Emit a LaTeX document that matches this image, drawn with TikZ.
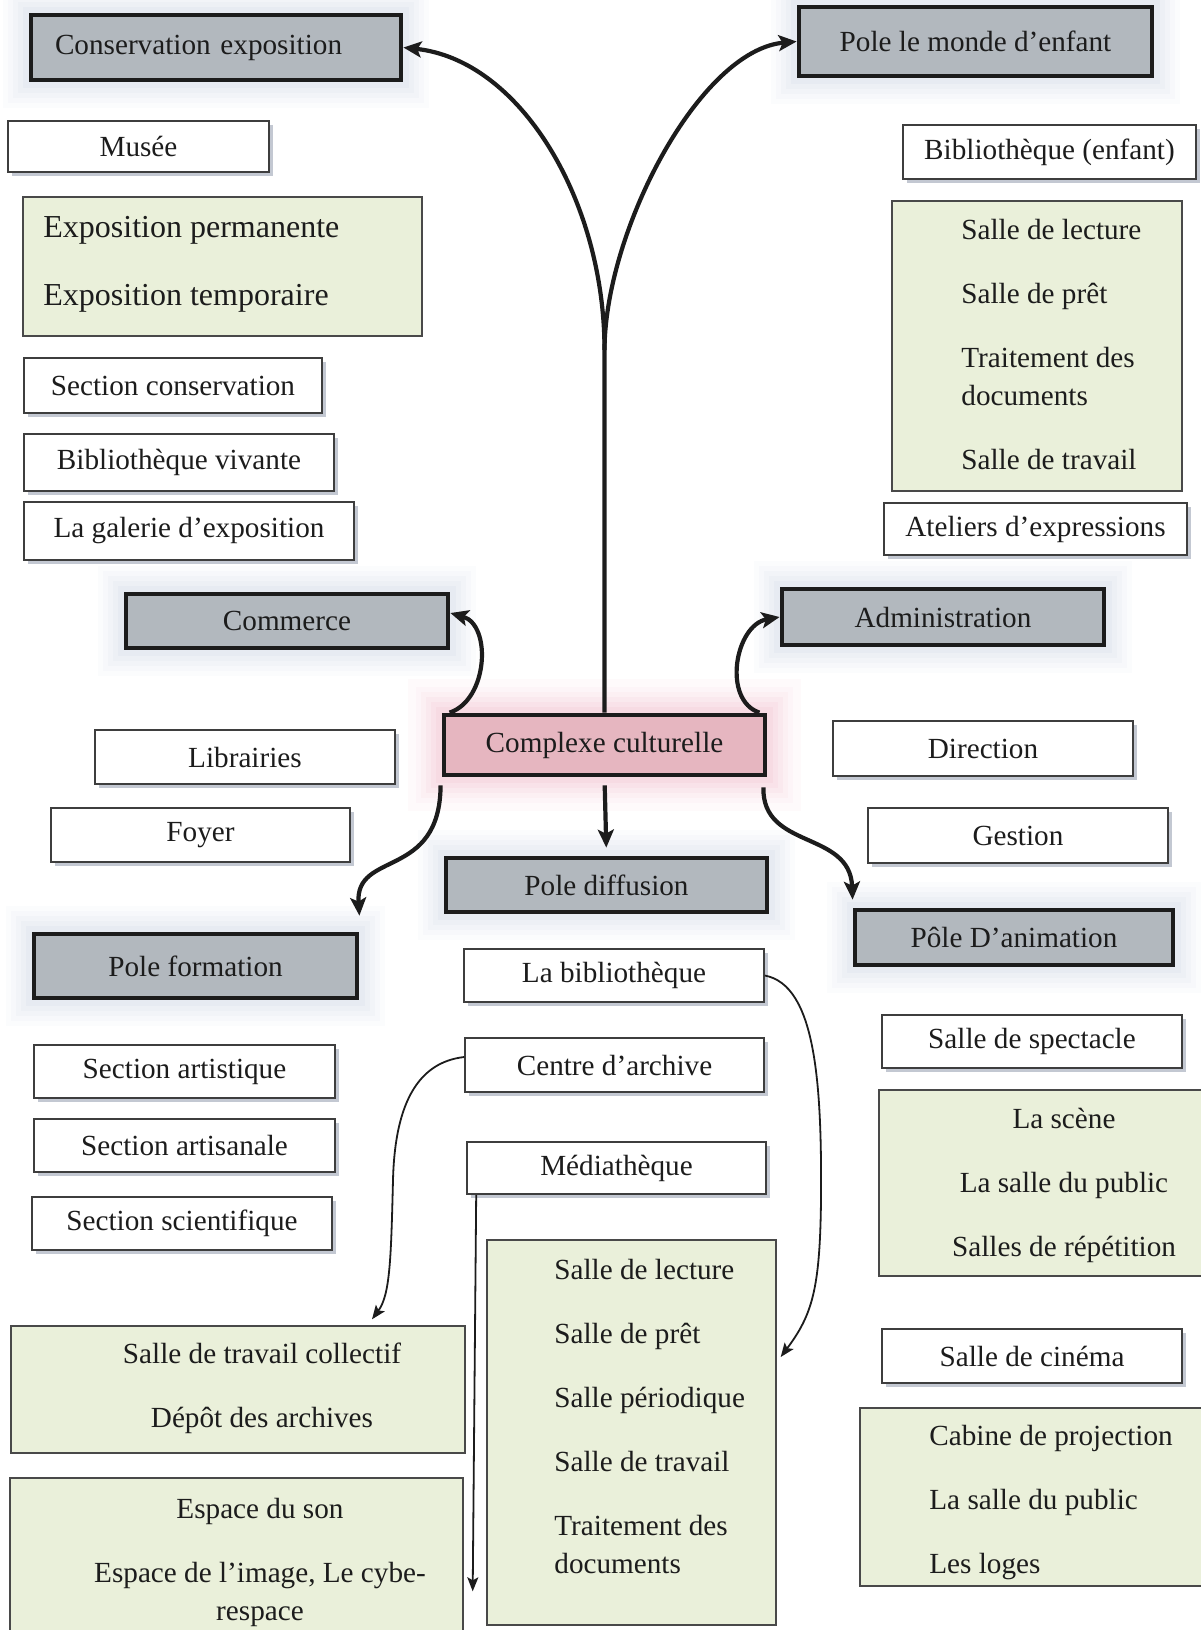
\documentclass[tikz,border=0pt]{standalone}
\usepackage{fontspec}
\setmainfont{Liberation Serif}
\usetikzlibrary{arrows.meta,shadows}

\definecolor{polegris}{RGB}{178,184,190}
\definecolor{halogris}{RGB}{165,178,205}
\definecolor{rosefond}{RGB}{230,182,192}
\definecolor{rosehalo}{RGB}{228,130,160}
\definecolor{vertfond}{RGB}{234,240,218}
\definecolor{ombre}{RGB}{135,145,165}
\definecolor{encre}{RGB}{28,28,28}

\tikzset{
  dim/.style 2 args={minimum width=#1*0.5pt, minimum height=#2*0.5pt},
  halo/.style={preaction={draw=#1, line width=28pt, opacity=.04},
               preaction={draw=#1, line width=23pt, opacity=.05},
               preaction={draw=#1, line width=18pt, opacity=.06},
               preaction={draw=#1, line width=13pt, opacity=.07},
               preaction={draw=#1, line width=8pt, opacity=.08}},
  pole/.style={draw=encre, line width=2.4pt, fill=polegris, halo=halogris,
               inner sep=0pt, text=encre, font=\fontsize{14.6}{18}\selectfont},
  centre/.style={draw=encre, line width=2.4pt, fill=rosefond, halo=rosehalo,
               preaction={draw=rosehalo, line width=36pt, opacity=.04},
               inner sep=0pt, text=encre, font=\fontsize{14.6}{18}\selectfont},
  item/.style={draw=encre!85, line width=0.8pt, fill=white,
               drop shadow={shadow xshift=2pt, shadow yshift=-2pt, fill=ombre, opacity=.5},
               inner sep=0pt, text=encre, font=\fontsize{14.6}{18}\selectfont},
  liste/.style={draw=encre!80, line width=0.7pt, fill=vertfond, inner sep=0pt},
  listetexte/.style={inner sep=0pt, anchor=north west, align=left, text=encre,
                     font=\fontsize{14.6}{19}\selectfont},
  grosse fleche/.style={draw=encre, line width=2.1pt, -{Stealth[length=9pt,width=8pt,inset=2pt]}},
  fine fleche/.style={draw=encre, line width=0.9pt, -{Stealth[length=7pt,width=5.5pt,inset=1.5pt]}},
}

\begin{document}
\begin{tikzpicture}[x=0.5pt,y=-0.5pt]
  \useasboundingbox (0,0) rectangle (1201,1630);
  \clip (0,0) rectangle (1201,1630);

  % les listes (fond vert)
  \node[liste, dim={399}{139}] (expo) at (222.5,266.5) {};
  \node[listetexte, font=\fontsize{16}{20}\selectfont] (expo-t) at (43,216)
    {Exposition permanente\\[14pt]Exposition temporaire};
  \node[liste, dim={290}{290}] (enfant) at (1037,346) {};
  \node[listetexte] (enfant-t) at (961,219)
    {Salle de lecture\\[13pt]Salle de prêt\\[13pt]Traitement des\\documents\\[13pt]Salle de travail};
  \node[liste, dim={370}{186}] (scene) at (1064,1183) {};
  \node[listetexte, anchor=north, align=center] (scene-t) at (1064,1108)
    {La scène\\[13pt]La salle du public\\[13pt]Salles de répétition};
  \node[liste, dim={454}{127}] (collectif) at (238,1389.5) {};
  \node[listetexte, anchor=north, align=center] (collectif-t) at (262,1343)
    {Salle de travail collectif\\[13pt]Dépôt des archives};
  \node[liste, dim={453}{182}] (espace) at (236.5,1569) {};
  \node[listetexte, anchor=north, align=center] (espace-t) at (260,1498)
    {Espace du son\\[13pt]Espace de l’image, Le cybe-\\respace};
  \node[liste, dim={289}{385}] (difflist) at (631.5,1432.5) {};
  \node[listetexte] (difflist-t) at (554,1259)
    {Salle de lecture\\[13pt]Salle de prêt\\[13pt]Salle périodique\\[13pt]Salle de travail\\[13pt]Traitement des\\documents};
  \node[liste, dim={370}{178}] (cinelist) at (1045,1497) {};
  \node[listetexte] (cinelist-t) at (929,1425)
    {Cabine de projection\\[13pt]La salle du public\\[13pt]Les loges};

  % les locaux (cases blanches)
  \node[item, dim={261}{51}] (musee) at (138.5,146.5) {Musée};
  \node[item, dim={298}{55}] (seccons) at (173,385.5) {Section conservation};
  \node[item, dim={310}{57}] (bibviv) at (179,462.5) {Bibliothèque vivante};
  \node[item, dim={330}{58}] (galerie) at (189,531) {La galerie d’exposition};
  \node[item, dim={293}{54}] (bibenf) at (1049.5,152) {Bibliothèque (enfant)};
  \node[item, dim={303}{52}] (ateliers) at (1035.5,529) {Ateliers d’expressions};
  \node[item, dim={300}{54}] (librairies) at (245,757) {Librairies};
  \node[item, dim={299}{54}] (foyer) at (200.5,835) {Foyer};
  \node[item, dim={300}{55}] (direction) at (983,748.5) {Direction};
  \node[item, dim={300}{55}] (gestion) at (1018,835.5) {Gestion};
  \node[item, dim={300}{53}] (labib) at (614,975.5) {La bibliothèque};
  \node[item, dim={299}{54}] (archive) at (614.5,1065) {Centre d’archive};
  \node[item, dim={299}{52}] (media) at (616.5,1168) {Médiathèque};
  \node[item, dim={301}{53}] (artistique) at (184.5,1071.5) {Section artistique};
  \node[item, dim={301}{53}] (artisanale) at (184.5,1145.5) {Section artisanale};
  \node[item, dim={300}{53}] (scientifique) at (182,1223.5) {Section scientifique};
  \node[item, dim={300}{53}] (spectacle) at (1032,1041.5) {Salle de spectacle};
  \node[item, dim={300}{54}] (cinema) at (1032,1356) {Salle de cinéma};

  % les pôles
  \node[pole, text width=161pt, align=left, inner xsep=12pt, minimum height=32.5pt] (cons) at (216,47.5) {Conservation exposition};
  \node[pole, dim={353}{69}] (monde) at (975.5,41.5) {Pole le monde d’enfant};
  \node[pole, dim={322}{54}] (commerce) at (287,621) {Commerce};
  \node[pole, dim={322}{56}] (admin) at (943,617) {Administration};
  \node[pole, dim={321}{54}] (diffusion) at (606.5,885) {Pole diffusion};
  \node[pole, dim={323}{64}] (formation) at (195.5,966) {Pole formation};
  \node[pole, dim={318}{55}] (animation) at (1014,937.5) {Pôle D’animation};
  \node[centre, dim={321}{60}] (complexe) at (604.5,745) {Complexe culturelle};

  % flèches depuis le complexe
  \coordinate (fourche) at (604.5,350);
  \draw[grosse fleche] (complexe.north) -- (fourche) .. controls (604.5,200) and (520,60) .. (cons.east);
  \draw[grosse fleche] (fourche) .. controls (605,230) and (700,50) .. (monde.west);
  \draw[grosse fleche] ([xshift=4pt]complexe.north west) .. controls (488,700) and (492,625) .. ([yshift=4pt]commerce.east);
  \draw[grosse fleche] ([xshift=-4pt]complexe.north east) .. controls (722,700) and (735,625) .. (admin.west);
  \draw[grosse fleche] ([xshift=-0.5pt,yshift=-4pt]complexe.south west) .. controls (440,880) and (355,850) .. ([yshift=8pt]formation.north east);
  \draw[grosse fleche] ([xshift=-2pt,yshift=-5pt]complexe.south east) .. controls (762,850) and (850,830) .. ([yshift=4pt]animation.north west);
  \draw[grosse fleche, shorten <=4pt, shorten >=4pt] (complexe.south) -- (diffusion.north);

  % flèches du pôle diffusion
  \draw[fine fleche] (labib.east) .. controls (815,985) and (822,1080) .. (821,1200)
    .. controls (820,1290) and (812,1315) .. ([xshift=2pt,yshift=37.75pt]difflist.east);
  \draw[fine fleche] ([yshift=4pt]archive.west) .. controls (420,1062) and (395,1100) .. (393,1180)
    .. controls (391,1260) and (390,1295) .. ([xshift=67pt,yshift=3pt]collectif.north);
  \draw[fine fleche] ([xshift=5pt]media.south west) -- ([xshift=4.5pt,yshift=-57pt]espace.north east);
\end{tikzpicture}
\end{document}
